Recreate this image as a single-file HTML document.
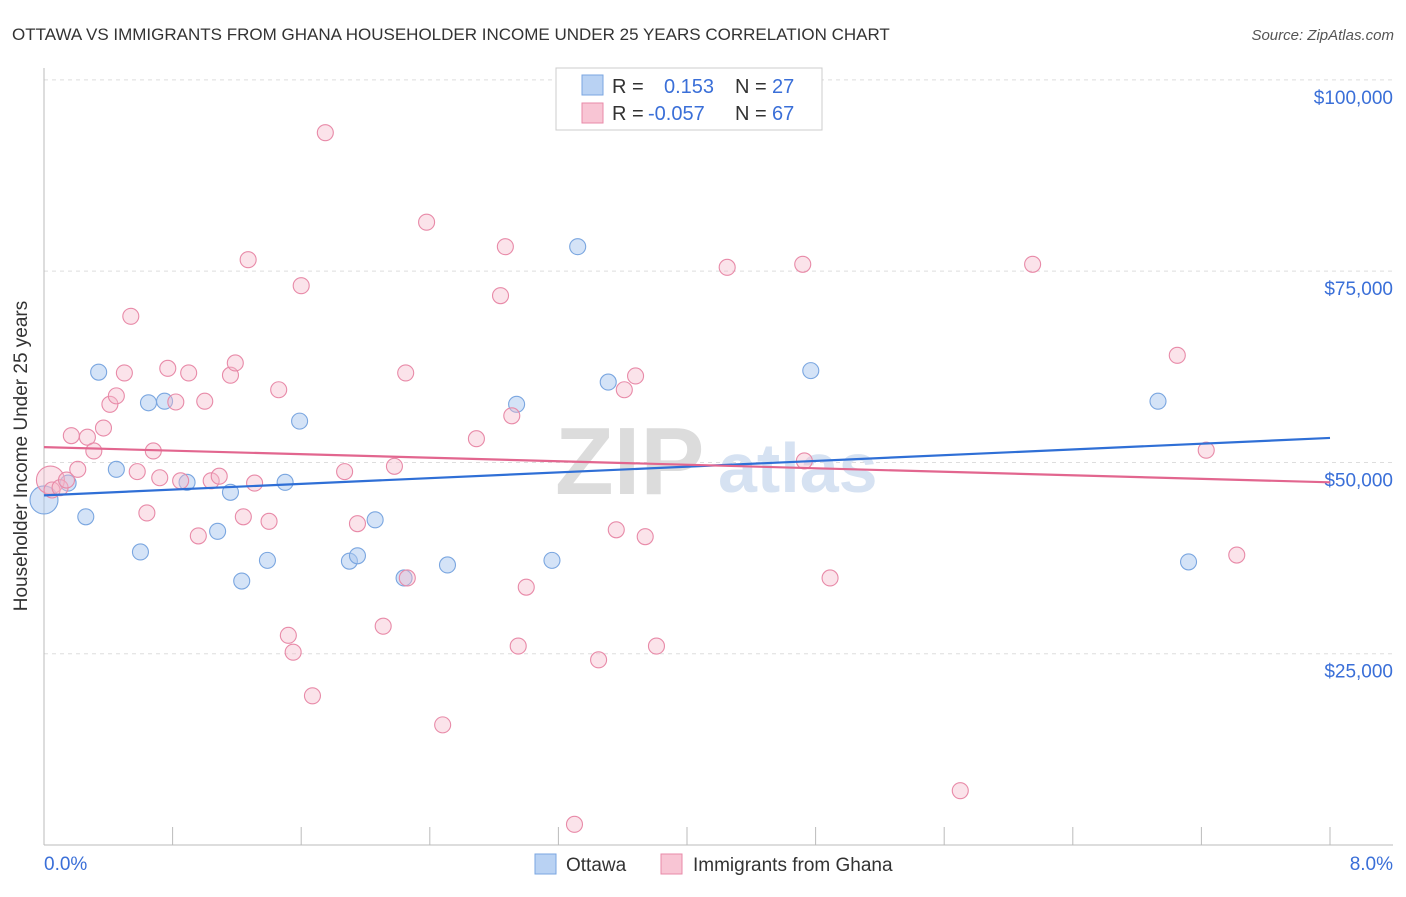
<!DOCTYPE html>
<html><head><meta charset="utf-8"><style>
body{margin:0;background:#fff;font-family:"Liberation Sans",sans-serif}
svg text{font-family:"Liberation Sans",sans-serif}
</style></head><body>
<svg id="c" width="1406" height="892">
<text x="12" y="40" font-size="17" fill="#333">OTTAWA VS IMMIGRANTS FROM GHANA HOUSEHOLDER INCOME UNDER 25 YEARS CORRELATION CHART</text>
<text x="1394" y="40" font-size="15" fill="#555" font-style="italic" text-anchor="end">Source: ZipAtlas.com</text>
<text x="27" y="456" font-size="19" fill="#333" text-anchor="middle" transform="rotate(-90 27 456)">Householder Income Under 25 years</text>
<g id="grid"></g>
<text x="555" y="494" font-size="96" fill="#dcdcdc" font-weight="bold" font-family="Liberation Serif">ZIP</text>
<text x="718" y="492" font-size="70" fill="#d6e2f2" font-weight="bold">atlas</text>
<g id="axes"></g>
<g id="pts"></g>
<g id="lines"></g>
<g>
<rect x="556" y="68" width="266" height="62" fill="#fff" stroke="#ccc"/>
<rect x="582" y="75" width="21" height="20" fill="#b9d2f3" stroke="#7aa6e0"/>
<rect x="582" y="103" width="21" height="20" fill="#f8c5d4" stroke="#e88aa8"/>
<text x="612" y="93" font-size="20" fill="#333">R =</text>
<text x="664" y="93" font-size="20" fill="#3a6fd8">0.153</text>
<text x="735" y="93" font-size="20" fill="#333">N =</text>
<text x="772" y="93" font-size="20" fill="#3a6fd8">27</text>
<text x="612" y="120" font-size="20" fill="#333">R =</text>
<text x="648" y="120" font-size="20" fill="#3a6fd8">-0.057</text>
<text x="735" y="120" font-size="20" fill="#333">N =</text>
<text x="772" y="120" font-size="20" fill="#3a6fd8">67</text>
</g>
<g>
<rect x="535" y="854" width="21" height="20" fill="#b9d2f3" stroke="#7aa6e0"/>
<text x="566" y="871" font-size="19" fill="#333">Ottawa</text>
<rect x="661" y="854" width="21" height="20" fill="#f8c5d4" stroke="#e88aa8"/>
<text x="693" y="871" font-size="19" fill="#333">Immigrants from Ghana</text>
</g>
</svg>
<script>
const yTicks=[25000,50000,75000,100000];
const yTickLabels=["$25,000","$50,000","$75,000","$100,000"];
const xTicks=[0,0.8,1.6,2.4,3.2,4.0,4.8,5.6,6.4,7.2,8.0];
const ottawaX=[0.00,0.15,0.26,0.34,0.45,0.60,0.65,0.75,0.89,1.08,1.16,1.23,1.39,1.50,1.59,1.90,1.95,2.06,2.24,2.51,2.94,3.16,3.32,3.51,4.77,6.93,7.12];
const ottawaY=[45.1,47.3,42.9,61.8,49.1,38.3,57.8,58.0,47.4,41.0,46.1,34.5,37.2,47.4,55.4,37.1,37.8,42.5,34.9,36.6,57.6,37.2,78.2,60.5,62.0,58.0,37.0];
const ghanaX=[0.04,0.05,0.10,0.14,0.17,0.21,0.27,0.31,0.37,0.41,0.45,0.50,0.54,0.58,0.64,0.68,0.72,0.77,0.82,0.85,0.90,0.96,1.00,1.04,1.09,1.16,1.19,1.24,1.27,1.31,1.40,1.46,1.52,1.55,1.60,1.67,1.75,1.87,1.95,2.11,2.18,2.25,2.26,2.38,2.48,2.69,2.84,2.87,2.91,2.95,3.00,3.30,3.45,3.56,3.61,3.68,3.74,3.81,4.25,4.72,4.73,4.89,5.70,6.15,7.05,7.23,7.42];
const ghanaY=[47.7,46.4,46.7,47.7,53.5,49.1,53.3,51.5,54.5,57.6,58.7,61.7,69.1,48.8,43.4,51.5,48.0,62.3,57.9,47.6,61.7,40.4,58.0,47.6,48.2,61.4,63.0,42.9,76.5,47.3,42.3,59.5,27.4,25.2,73.1,19.5,93.1,48.8,42.0,28.6,49.5,61.7,34.9,81.4,15.7,53.1,71.8,78.2,56.1,26.0,33.7,2.7,24.2,41.2,59.5,61.3,40.3,26.0,75.5,75.9,50.2,34.9,7.1,75.9,64.0,51.6,37.9];
const ottawaTrend=[45.7,53.2];
const ghanaTrend=[52.0,47.4];
const NS="http://www.w3.org/2000/svg";
const X=p=>44+p*160.75;
const Y=v=>845-v/130.7;
function mk(t,a,parent){const e=document.createElementNS(NS,t);for(const k in a)e.setAttribute(k,a[k]);document.getElementById(parent).appendChild(e);return e;}
yTicks.forEach((v,i)=>{
 const l=mk('line',{x1:44,x2:1393,y1:Y(v),y2:Y(v),stroke:'#ddd','stroke-dasharray':'4,4'},'grid');
 
 
 const t=mk('text',{x:1393,y:Y(v)+24,'font-size':19,fill:'#3a6fd8','text-anchor':'end'},'axes');
 t.textContent=yTickLabels[i];
 
 
});
mk('line',{x1:44,x2:44,y1:68,y2:845,stroke:'#bbb'},'axes');
mk('line',{x1:44,x2:1393,y1:845,y2:845,stroke:'#bbb'},'axes');
xTicks.forEach(p=>{
 const l=mk('line',{x1:X(p),x2:X(p),y1:827,y2:845,stroke:'#bbb'},'axes');
 
 
});
const xl=mk('text',{x:44,y:870,'font-size':19,fill:'#3a6fd8'},'axes');xl.textContent=xTicks[0].toFixed(1)+'%';


const xr=mk('text',{x:1393,y:870,'font-size':19,fill:'#3a6fd8','text-anchor':'end'},'axes');xr.textContent=xTicks[xTicks.length-1].toFixed(1)+'%';


ottawaX.forEach((p,i)=>{
 const c=mk('circle',{cx:X(p),cy:Y(ottawaY[i]*1000),r:i==0?14:8,fill:'#aac8ef','fill-opacity':0.5,stroke:'#7aa6e0','stroke-width':1.1},'pts');
 
 
});
ghanaX.forEach((p,i)=>{
 const c=mk('circle',{cx:X(p),cy:Y(ghanaY[i]*1000),r:i==0?14:8,fill:'#f5b8cb','fill-opacity':0.4,stroke:'#e88aa8','stroke-width':1.1},'pts');
 
 
});
const bl=mk('line',{x1:X(0),x2:X(8),y1:Y(ottawaTrend[0]*1000),y2:Y(ottawaTrend[1]*1000),stroke:'#2f6fd6','stroke-width':2.2},'lines');


const pl=mk('line',{x1:X(0),x2:X(8),y1:Y(ghanaTrend[0]*1000),y2:Y(ghanaTrend[1]*1000),stroke:'#e2668f','stroke-width':2.2},'lines');


</script>
</body></html>
